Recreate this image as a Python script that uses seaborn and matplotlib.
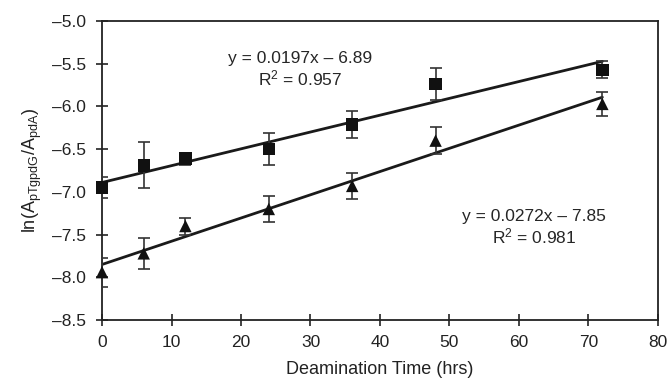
import numpy as np
import pandas as pd
import matplotlib
matplotlib.use("Agg")
import matplotlib.pyplot as plt
import seaborn as sns

# data
hours = [0, 6, 12, 24, 36, 48, 72]
sq_vals = [-6.95, -6.69, -6.61, -6.50, -6.21, -5.74, -5.57]
sq_err = [0.12, 0.27, 0.07, 0.19, 0.16, 0.19, 0.10]
tri_vals = [-7.94, -7.72, -7.40, -7.20, -6.93, -6.40, -5.97]
tri_err = [0.17, 0.18, 0.10, 0.15, 0.15, 0.16, 0.14]

# trendlines as printed on the chart
slopes = [0.0197, 0.0272]
intercepts = [-6.89, -7.85]
fit_x = [0, 72]
eq_texts = ["y = 0.0197x \u2013 6.89\nR$^2$ = 0.957", "y = 0.0272x \u2013 7.85\nR$^2$ = 0.981"]

sns.set_style("ticks")
plt.rcParams['font.family'] = ['Liberation Sans', 'DejaVu Sans']
plt.rcParams['mathtext.fontset'] = 'custom'
plt.rcParams['mathtext.rm'] = 'Liberation Sans'
plt.rcParams['mathtext.it'] = 'Liberation Sans'

df = pd.DataFrame({
    'hours': hours * 2,
    'value': sq_vals + tri_vals,
    'err': sq_err + tri_err,
    'series': ['sq'] * len(hours) + ['tri'] * len(hours),
})

fig = plt.figure(figsize=(6.69, 3.83), dpi=100)
ax = fig.add_axes([0.1525, 0.1645, 0.831, 0.7805])

# trendlines
for m, b in zip(slopes, intercepts):
    xs = np.array(fit_x, dtype=float)
    sns.lineplot(x=xs, y=m * xs + b, ax=ax, color='#1a1a1a', linewidth=2.0)

# error bars
for s, sub in df.groupby('series'):
    ax.errorbar(sub['hours'], sub['value'], yerr=sub['err'], fmt='none',
                ecolor='#333333', elinewidth=1.2, capsize=4, capthick=1.2, zorder=3)

sns.scatterplot(data=df, x='hours', y='value', style='series',
                markers={'sq': 's', 'tri': '^'}, color='#111111', s=80,
                edgecolor='none', legend=False, ax=ax, zorder=4, clip_on=False)

ax.text(28.5, -5.57, eq_texts[0], ha='center', va='center', fontsize=12.5,
        linespacing=1.2)
ax.text(62.2, -7.42, eq_texts[1], ha='center', va='center', fontsize=12.5,
        linespacing=1.2)

ax.set_xlim(0, 80)
ax.set_ylim(-8.5, -5.0)
ax.set_xticks(range(0, 81, 10))
ax.set_yticks(np.arange(-8.5, -4.99, 0.5))
ax.set_yticklabels([f"{v:.1f}".replace('-', '\u2013') for v in np.arange(-8.5, -4.99, 0.5)])
ax.tick_params(axis='both', direction='inout', length=8, width=1.2,
               labelsize=12.5, colors='#222222')
ax.tick_params(axis='x', pad=7)
ax.tick_params(axis='y', pad=7.5)
for sp in ax.spines.values():
    sp.set_linewidth(1.3)
    sp.set_color('#222222')

ax.set_xlabel('Deamination Time (hrs)', fontsize=13, color='#222222', labelpad=8)
ax.set_ylabel(r'ln(A$_{\mathrm{pTgpdG}}$/A$_{\mathrm{pdA}}$)', fontsize=13,
              color='#222222', labelpad=6)

fig.savefig('out.png', dpi=100)
